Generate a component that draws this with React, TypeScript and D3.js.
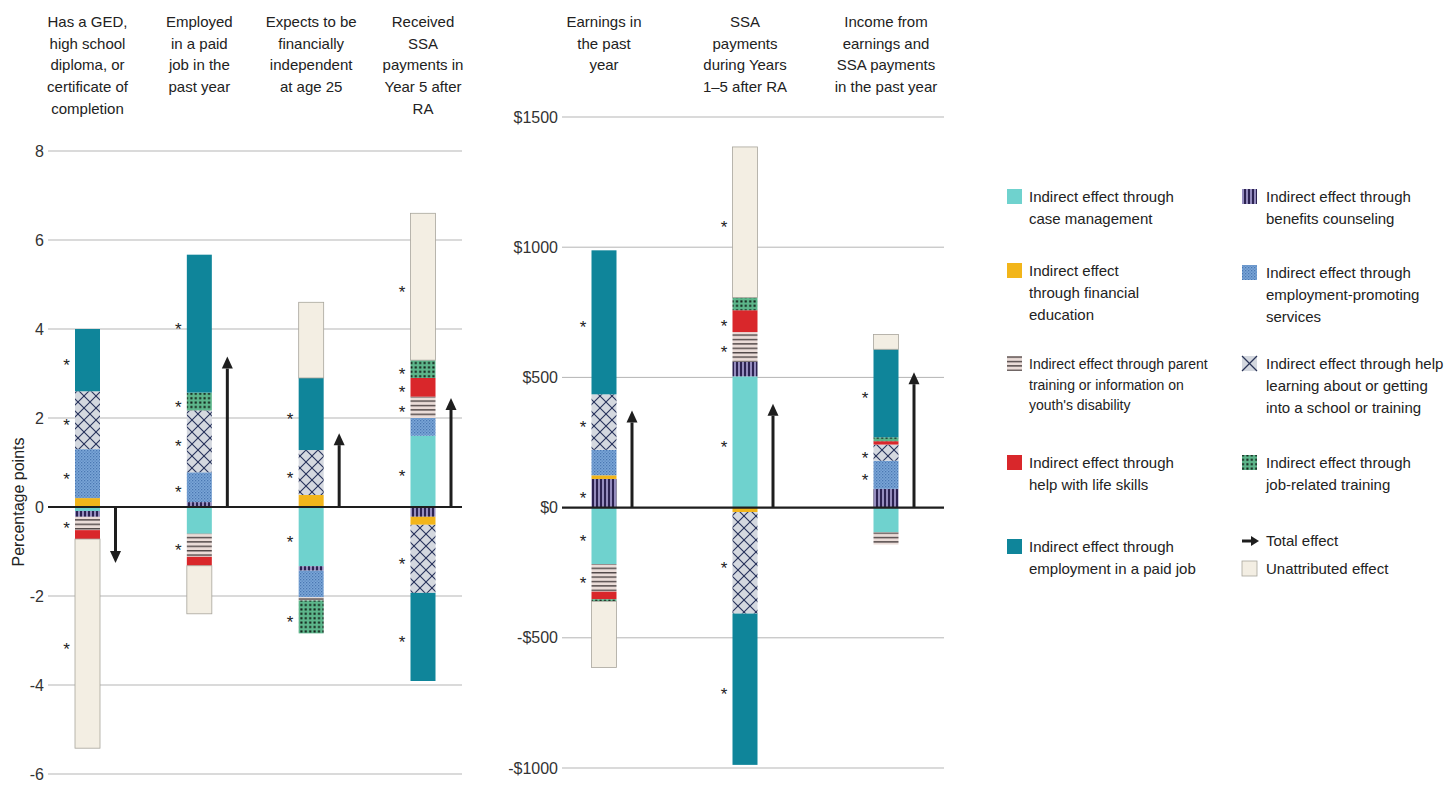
import React from 'react';
import * as d3 from 'd3';

// ---------- DATA ----------
const KEYS = ['caseMgmt', 'benefits', 'finEd', 'empPromo', 'parent', 'school', 'lifeSkills', 'jobTraining', 'paidJob', 'unattributed'];

// Left panel (percentage points)
const leftCategories = ['GED', 'Employed', 'Expects', 'ReceivedSSA'];
const leftTitles = [
  ['Has a GED,', 'high school', 'diploma, or', 'certificate of', 'completion'],
  ['Employed', 'in a paid', 'job in the', 'past year'],
  ['Expects to be', 'financially', 'independent', 'at age 25'],
  ['Received', 'SSA', 'payments in', 'Year 5 after', 'RA'],
];
const leftCaseMgmt = [-0.09, -0.6, -1.33, 1.6];
const leftBenefits = [-0.13, 0.11, -0.1, -0.22];
const leftFinEd = [0.2, 0, 0.27, -0.18];
const leftEmpPromo = [1.1, 0.67, -0.6, 0.4];
const leftParent = [-0.3, -0.52, -0.07, 0.48];
const leftSchool = [1.3, 1.39, 1.01, -1.53];
const leftLifeSkills = [-0.2, -0.2, 0, 0.42];
const leftJobTraining = [0, 0.4, -0.74, 0.4];
const leftPaidJob = [1.4, 3.1, 1.62, -1.98];
const leftUnattributed = [-4.7, -1.08, 1.7, 3.3];
const leftTotal = [-1.26, 3.38, 1.66, 2.45];
const leftStars = [
  ['paidJob', 'school', 'empPromo', 'parent', 'unattributed'],
  ['paidJob', 'jobTraining', 'school', 'empPromo', 'parent'],
  ['paidJob', 'school', 'caseMgmt', 'jobTraining'],
  ['unattributed', 'jobTraining', 'lifeSkills', 'parent', 'caseMgmt', 'school', 'paidJob'],
];
const leftTicks = [8, 6, 4, 2, 0, -2, -4, -6];

// Right panel (dollars)
const rightCategories = ['Earnings', 'SSAPayments', 'Income'];
const rightTitles = [
  ['Earnings in', 'the past', 'year'],
  ['SSA', 'payments', 'during Years', '1–5 after RA'],
  ['Income from', 'earnings and', 'SSA payments', 'in the past year'],
];
const rightCaseMgmt = [-217, 504, -95];
const rightBenefits = [110, 56, 72];
const rightFinEd = [14, -17, 0];
const rightEmpPromo = [98, 0, 108];
const rightParent = [-106, 114, -47];
const rightSchool = [213, -390, 62];
const rightLifeSkills = [-29, 84, 13];
const rightJobTraining = [-8, 49, 15];
const rightPaidJob = [553, -581, 338];
const rightUnattributed = [-254, 578, 57];
const rightTotal = [373, 399, 520];
const rightStars = [
  ['paidJob', 'school', 'benefits', 'caseMgmt', 'parent'],
  ['unattributed', 'lifeSkills', 'parent', 'caseMgmt', 'school', 'paidJob'],
  ['paidJob', 'school', 'empPromo'],
];
const rightTicks = [1500, 1000, 500, 0, -500, -1000];

// Legend
const legendCol1 = ['caseMgmt', 'finEd', 'parent', 'lifeSkills', 'paidJob'];
const legendCol2 = ['benefits', 'empPromo', 'school', 'jobTraining', 'total', 'unattributed'];
const legendLabels: Record<string, string[]> = {
  caseMgmt: ['Indirect effect through', 'case management'],
  finEd: ['Indirect effect', 'through financial', 'education'],
  parent: ['Indirect effect through parent', 'training or information on', "youth's disability"],
  lifeSkills: ['Indirect effect through', 'help with life skills'],
  paidJob: ['Indirect effect through', 'employment in a paid job'],
  benefits: ['Indirect effect through', 'benefits counseling'],
  empPromo: ['Indirect effect through', 'employment-promoting', 'services'],
  school: ['Indirect effect through help', 'learning about or getting', 'into a school or training'],
  jobTraining: ['Indirect effect through', 'job-related training'],
  total: ['Total effect'],
  unattributed: ['Unattributed effect'],
};

// ---------- STYLE ----------
const FONT = "Arial, 'Liberation Sans', Helvetica, sans-serif";
const FILLS: Record<string, string> = {
  caseMgmt: '#6fd2ce',
  benefits: 'url(#p-benefits)',
  finEd: '#f2b51a',
  empPromo: 'url(#p-emp)',
  parent: 'url(#p-parent)',
  school: 'url(#p-school)',
  lifeSkills: '#d9272b',
  jobTraining: 'url(#p-job)',
  paidJob: '#0f859a',
  unattributed: '#f3eee3',
};

function buildRows(cats: string[], arrs: number[][]) {
  return cats.map((c, i) => {
    const row: any = { cat: c };
    KEYS.forEach((k, j) => (row[k] = arrs[j][i]));
    return row;
  });
}

const leftRows = buildRows(leftCategories, [leftCaseMgmt, leftBenefits, leftFinEd, leftEmpPromo, leftParent, leftSchool, leftLifeSkills, leftJobTraining, leftPaidJob, leftUnattributed]);
const rightRows = buildRows(rightCategories, [rightCaseMgmt, rightBenefits, rightFinEd, rightEmpPromo, rightParent, rightSchool, rightLifeSkills, rightJobTraining, rightPaidJob, rightUnattributed]);

type PanelProps = {
  cats: string[];
  rows: any[];
  titles: string[][];
  totals: number[];
  stars: string[][];
  y: d3.ScaleLinear<number, number>;
  centers: [number, number];
  gridX: [number, number];
  ticks: number[];
  fmt: (v: number) => string;
};

function Panel({ cats, rows, titles, totals, stars, y, centers, gridX, ticks, fmt }: PanelProps) {
  const x = d3.scalePoint<string>().domain(cats).range(centers);
  const series = d3.stack<any>().keys(KEYS).offset(d3.stackOffsetDiverging)(rows);
  const bw = 25;
  const y0 = y(0);
  return (
    <g>
      {/* titles */}
      {cats.map((c, i) => (
        <text key={'t' + c} x={x(c)} y={27} textAnchor="middle" fontSize={15} fill="#222" fontFamily={FONT}>
          {titles[i].map((ln, j) => (
            <tspan key={j} x={x(c)} y={27 + j * 21.7}>{ln}</tspan>
          ))}
        </text>
      ))}
      {/* grid */}
      {ticks.map((t) => (
        <g key={'g' + t}>
          {t !== 0 && <line x1={gridX[0]} x2={gridX[1]} y1={y(t)} y2={y(t)} stroke="#b5b5b5" strokeWidth={1} />}
          <text x={gridX[0] - 4} y={y(t)} dy="0.35em" textAnchor="end" fontSize={16} fill="#333" fontFamily={FONT}>{fmt(t)}</text>
        </g>
      ))}
      {/* bars */}
      {series.map((s) => (
        <g key={s.key}>
          {s.map((d, i) => {
            if (d[0] === d[1]) return null;
            const top = y(Math.max(d[0], d[1]));
            const bot = y(Math.min(d[0], d[1]));
            return (
              <rect key={i} x={(x(cats[i]) as number) - bw / 2} y={top} width={bw} height={bot - top}
                fill={FILLS[s.key]}
                stroke={s.key === 'unattributed' ? '#a8a59c' : 'none'} strokeWidth={s.key === 'unattributed' ? 0.8 : 0} />
            );
          })}
        </g>
      ))}
      {/* zero line */}
      <line x1={gridX[0]} x2={gridX[1]} y1={y0} y2={y0} stroke="#1e1e1e" strokeWidth={2.2} />
      {/* stars */}
      {cats.map((c, i) => stars[i].map((k) => {
        const s = series.find((q) => q.key === k)!;
        const d = s[i];
        const mid = (y(d[0]) + y(d[1])) / 2;
        return (
          <text key={c + k} x={(x(c) as number) - 21} y={mid + 11} textAnchor="middle" fontSize={17} fill="#222" fontFamily={FONT}>*</text>
        );
      }))}
      {/* total effect arrows */}
      {cats.map((c, i) => {
        const ax = (x(c) as number) + 28;
        const tip = y(totals[i]);
        const dir = totals[i] >= 0 ? 1 : -1;
        const base = tip + dir * 12;
        return (
          <g key={'a' + c}>
            <line x1={ax} x2={ax} y1={y0} y2={base} stroke="#1e1e1e" strokeWidth={3} />
            <polygon points={`${ax - 5.5},${base} ${ax + 5.5},${base} ${ax},${tip}`} fill="#1e1e1e" />
          </g>
        );
      })}
    </g>
  );
}

function Legend() {
  const col1Base = [202, 276, 369, 468, 552];
  const col2Base = [202, 278, 369, 468, 546, 574];
  const renderItem = (k: string, sx: number, tx: number, base: number) => {
    const lines = legendLabels[k];
    const fs = k === 'parent' ? 14 : 15;
    const lh = k === 'parent' ? 20.5 : 22;
    let sw: any;
    if (k === 'total') {
      sw = (
        <g>
          <line x1={sx} x2={sx + 10} y1={base - 5} y2={base - 5} stroke="#1e1e1e" strokeWidth={3} />
          <polygon points={`${sx + 9},${base - 10} ${sx + 17},${base - 5} ${sx + 9},${base}`} fill="#1e1e1e" />
        </g>
      );
    } else if (k === 'school') {
      sw = (
        <g>
          <rect x={sx} y={base - 13} width={15} height={15} fill="#d4d8df" />
          <line x1={sx} y1={base - 13} x2={sx + 15} y2={base + 2} stroke="#2a3457" strokeWidth={1.2} />
          <line x1={sx + 15} y1={base - 13} x2={sx} y2={base + 2} stroke="#2a3457" strokeWidth={1.2} />
        </g>
      );
    } else {
      sw = <rect x={sx} y={base - 13} width={15} height={15} fill={FILLS[k]}
        stroke={k === 'unattributed' ? '#a8a59c' : 'none'} strokeWidth={0.8} />;
    }
    return (
      <g key={'lg' + k}>
        {sw}
        <text x={tx} y={base} fontSize={fs} fill="#222" fontFamily={FONT}>
          {lines.map((ln, j) => (
            <tspan key={j} x={tx} y={base + j * lh}>{ln}</tspan>
          ))}
        </text>
      </g>
    );
  };
  return (
    <g>
      {legendCol1.map((k, i) => renderItem(k, 1007, 1029, col1Base[i]))}
      {legendCol2.map((k, i) => renderItem(k, 1242, 1266, col2Base[i]))}
    </g>
  );
}

export default function App() {
  const yLeft = d3.scaleLinear().domain([-6, 8]).range([774, 151]);
  const yRight = d3.scaleLinear().domain([-1000, 1500]).range([768, 117]);
  const fmtLeft = (v: number) => (v < 0 ? '-' + Math.abs(v) : String(v));
  const fmtRight = (v: number) => (v < 0 ? '-$' + Math.abs(v) : '$' + v);
  return (
    <svg width={1447} height={786} style={{ position: 'absolute', left: 0, top: 0, background: '#fff' }}>
      <defs>
        <pattern id="p-parent" width={4} height={4.4} patternUnits="userSpaceOnUse">
          <rect width={4} height={4.4} fill="#eadcd8" />
          <rect y={0} width={4} height={1.4} fill="#4f4646" />
        </pattern>
        <pattern id="p-benefits" width={4} height={4} patternUnits="userSpaceOnUse">
          <rect width={4} height={4} fill="#948cbd" />
          <rect x={0} width={2} height={4} fill="#2c2352" />
        </pattern>
        <pattern id="p-emp" width={3} height={3} patternUnits="userSpaceOnUse">
          <rect width={3} height={3} fill="#7ba6d7" />
          <rect x={0} y={0} width={1.3} height={1.3} fill="#4a77b2" />
          <rect x={1.5} y={1.5} width={1.3} height={1.3} fill="#5886c0" />
        </pattern>
        <pattern id="p-school" width={12} height={12} patternUnits="userSpaceOnUse">
          <rect width={12} height={12} fill="#d4d8df" />
          <line x1={0} y1={0} x2={12} y2={12} stroke="#25305a" strokeWidth={1.1} />
          <line x1={12} y1={0} x2={0} y2={12} stroke="#25305a" strokeWidth={1.1} />
        </pattern>
        <pattern id="p-job" width={4.4} height={4.4} patternUnits="userSpaceOnUse">
          <rect width={4.4} height={4.4} fill="#5db68b" />
          <rect x={1.2} y={1.2} width={2} height={2} fill="#0f1a14" />
        </pattern>
      </defs>
      <text transform="translate(24,502) rotate(-90)" textAnchor="middle" fontSize={16} fill="#222" fontFamily={FONT}>Percentage points</text>
      <Panel cats={leftCategories} rows={leftRows} titles={leftTitles} totals={leftTotal} stars={leftStars}
        y={yLeft} centers={[87.5, 423]} gridX={[48, 462]} ticks={leftTicks} fmt={fmtLeft} />
      <Panel cats={rightCategories} rows={rightRows} titles={rightTitles} totals={rightTotal} stars={rightStars}
        y={yRight} centers={[604, 886]} gridX={[562, 944]} ticks={rightTicks} fmt={fmtRight} />
      <Legend />
    </svg>
  );
}
